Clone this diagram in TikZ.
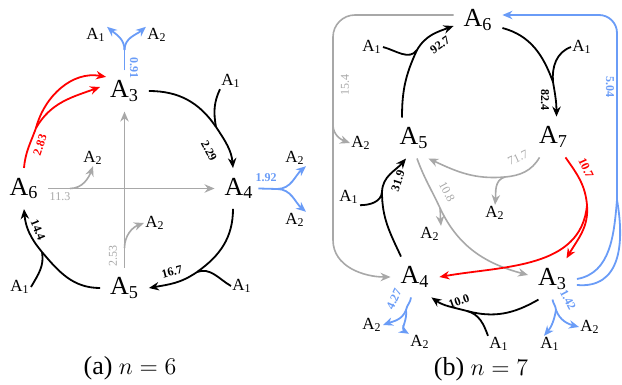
\documentclass[tikz,border=0pt]{standalone}
\usepackage{fontspec}
\setmainfont{Liberation Serif}
\usepackage{tikz}
\usetikzlibrary{arrows.meta}
\definecolor{figGray}{HTML}{A8A8A8}
\definecolor{figBlue}{HTML}{6A9CF7}
\definecolor{figRed}{HTML}{FF0000}
\newcommand{\Ai}[1]{A\textsubscript{#1}}

\begin{document}
\begin{tikzpicture}[x=0.5pt, y=0.5pt,
  big/.style={font=\fontsize{13}{15}\selectfont, inner sep=5pt, outer sep=0pt},
  small/.style={font=\fontsize{8.5}{10}\selectfont, inner sep=0.5pt},
  wt/.style={font=\fontsize{6}{7}\selectfont\bfseries, inner sep=0.5pt},
  gwt/.style={font=\fontsize{6}{7}\selectfont, text=figGray, inner sep=0.5pt},
  capt/.style={font=\fontsize{13}{15}\selectfont},
  arr/.style={-{Stealth[length=5pt,width=4.2pt]}},
  blk/.style={line width=0.9pt, black},
  rd/.style={line width=0.9pt, figRed},
  bl/.style={line width=0.9pt, figBlue},
  gr/.style={line width=0.8pt, figGray},
]
\useasboundingbox (0,0) rectangle (622,-385);

% === (a) n = 6 ===
\begin{scope}
  \node[big] (a3) at (124.5,-91) {\Ai3};
  \node[big] (a4) at (239,-188.5) {\Ai4};
  \node[big] (a5) at (124.5,-288) {\Ai5};
  \node[big] (a6) at (24,-188.5) {\Ai6};

  % A3 + A1 -> A4
  \node[small] (a34-in) at (231,-81) {\Ai1};
  \coordinate (a34-m) at (216,-127);
  \draw[blk] (a3.east) to[out=0,in=124] (a34-m);
  \draw[blk] (a34-in.south west) to[out=-115,in=100] (a34-m);
  \draw[blk,arr] (a34-m) to[out=-56,in=95] ([xshift=-3pt]a4.north);
  \node[wt, rotate=-62] (a34-w) at (209,-151) {2.29};

  % A4 + A1 -> A5
  \node[small] (a45-in) at (242,-286) {\Ai1};
  \coordinate (a45-m) at (197,-272);
  \draw[blk] ([xshift=-3pt]a4.south) to[out=-90,in=35] (a45-m);
  \draw[blk] (a45-in.west) to[out=150,in=20] (a45-m);
  \draw[blk,arr] (a45-m) to[out=-145,in=10] (a5.east);
  \node[wt, rotate=15] (a45-w) at (172,-272) {16.7};

  % A5 + A1 -> A6
  \node[small] (a56-in) at (20,-287) {\Ai1};
  \coordinate (a56-m) at (42,-252);
  \draw[blk] (a5.west) to[out=180,in=-50] (a56-m);
  \draw[blk] (a56-in.east) to[out=60,in=-80] (a56-m);
  \draw[blk,arr] (a56-m) to[out=130,in=-85] (a6.south);
  \node[wt, rotate=-68] (a56-w) at (38,-230) {14.4};

  % A6 -> 2 A3
  \coordinate (a63-s) at (36,-128);
  \draw[rd] (a6.north) to[out=85,in=-110] (a63-s);
  \draw[rd,arr] (a63-s) to[out=75,in=170] ([xshift=3pt]a3.150);
  \draw[rd,arr] (a63-s) to[out=60,in=200] ([yshift=2pt]a3.west);
  \node[wt, text=figRed, rotate=72] (a63-w) at (40,-145) {2.83};

  % A3 -> A1 + A2
  \node[small] (a3-o1) at (96,-35) {\Ai1};
  \node[small] (a3-o2) at (157,-35) {\Ai2};
  \coordinate (a3-s) at (124.5,-50);
  \draw[bl] (a3.north) -- (a3-s);
  \draw[bl,arr] (a3-s) to[out=90,in=-40] (a3-o1.north east);
  \draw[bl,arr] (a3-s) to[out=90,in=-140] (a3-o2.north west);
  \node[wt, text=figBlue, rotate=-90] (a3-w) at (134,-68) {0.91};

  % A4 -> A2 + A2
  \node[small] (a4-o1) at (295,-158) {\Ai2};
  \node[small] (a4-o2) at (295,-220) {\Ai2};
  \coordinate (a4-s) at (277,-189);
  \draw[bl] ([xshift=-2.5pt]a4.east) -- (a4-s);
  \draw[bl,arr] (a4-s) to[out=0,in=-140] (a4-o1.south east);
  \draw[bl,arr] (a4-s) to[out=0,in=140] (a4-o2.north east);
  \node[wt, text=figBlue] (a4-w) at (266,-178) {1.92};

  % A5 -> A3 + A2
  \node[small] (a53-o) at (155,-223) {\Ai2};
  \coordinate (a53-s) at (124.5,-248);
  \draw[gr,arr] (a5.north) -- (a3.south);
  \draw[gr,arr] (a53-s) to[out=90,in=200] (a53-o.west);
  \node[gwt, rotate=90] (a53-w) at (113,-256) {2.53};

  % A6 -> A4 + A2
  \node[small] (a64-o) at (93,-158) {\Ai2};
  \coordinate (a64-s) at (70,-188.5);
  \draw[gr,arr] (a6.east) -- (a4.west);
  \draw[gr,arr] (a64-s) to[out=0,in=-110] (a64-o.south);
  \node[gwt] (a64-w) at (60,-197) {11.3};

  \node[capt] (a-cap) at (130,-368) {(a) $n=6$};
\end{scope}

% === (b) n = 7 ===
\begin{scope}
  \node[big] (b6) at (478,-20) {\Ai6};
  \node[big] (b7) at (553.5,-137) {\Ai7};
  \node[big] (b5) at (414,-138) {\Ai5};
  \node[big] (b4) at (415,-277) {\Ai4};
  \node[big] (b3) at (552.5,-279) {\Ai3};

  % A6 -> A4 + A2
  \node[small] (b6-o) at (361,-143) {\Ai2};
  \coordinate (b6-s) at (333,-125);
  \coordinate (b6-c) at (333,-240);
  \draw[gr, rounded corners=11pt] ([yshift=2.5pt]b6.west) -| (b6-s);
  \draw[gr,arr] (b6-s) to[out=-90,in=160] (b6-o.west);
  \draw[gr,arr] (b6-s) -- (b6-c) to[out=-90,in=180] (b4.west);
  \node[gwt, rotate=90] (b6-w) at (345,-85) {15.4};

  % 2 A3 -> A6
  \coordinate (b3-m) at (617,-200);
  \draw[bl] (b3.east) to[out=10,in=-95] (b3-m);
  \draw[bl] ([yshift=-3pt]b3.east) to[out=-5,in=-80,looseness=1.2] (b3-m);
  \draw[bl,arr,rounded corners=9pt] (b3-m) |- ([yshift=2.5pt]b6.east);
  \node[wt, text=figBlue, rotate=-90] (b3-w) at (610,-87) {5.04};

  % A5 + A1 -> A6
  \node[small] (b56-in) at (372,-47) {\Ai1};
  \coordinate (b56-m) at (417,-50);
  \draw[blk] ([xshift=-6pt]b5.north) to[out=90,in=-115] (b56-m);
  \draw[blk] (b56-in.east) to[out=-15,in=-125] (b56-m);
  \draw[blk,arr] (b56-m) to[out=60,in=200] ([yshift=-3pt]b6.west);
  \node[wt, rotate=35] (b56-w) at (440,-45) {92.7};

  % A6 + A1 -> A7
  \node[small] (b67-in) at (582,-47) {\Ai1};
  \coordinate (b67-m) at (553,-82);
  \draw[blk] ([yshift=-4pt]b6.east) to[out=-15,in=110] (b67-m);
  \draw[blk] (b67-in.west) to[out=-160,in=95] (b67-m);
  \draw[blk,arr] (b67-m) to[out=-80,in=90] ([xshift=1.5pt]b7.north);
  \node[wt, rotate=-90] (b67-w) at (545,-100) {82.4};

  % A7 -> A5 + A2
  \node[small] (b75-o) at (495,-213) {\Ai2};
  \coordinate (b75-s) at (505,-177);
  \draw[gr] ([xshift=-7pt]b7.south) to[out=-120,in=5] (b75-s);
  \draw[gr,arr] (b75-s) to[out=185,in=-25] ([xshift=-5pt]b5.south east);
  \draw[gr,arr] (b75-s) to[out=-165,in=85] (b75-o.north);
  \node[gwt, rotate=25] (b75-w) at (518,-158) {71.7};

  % A5 -> A3 + A2
  \node[small] (b53-o) at (430,-234) {\Ai2};
  \coordinate (b53-s) at (440,-208);
  \draw[gr] ([xshift=1.5pt]b5.south) to[out=-70,in=115] (b53-s);
  \draw[gr,arr] (b53-s) to[out=-65,in=165] ([yshift=2pt]b3.west);
  \draw[gr,arr] (b53-s) to[out=-85,in=95] (b53-o.north east);
  \node[gwt, rotate=-62] (b53-w) at (447,-192) {10.8};

  % A7 -> A3 + A4
  \coordinate (b73-s) at (587,-205);
  \draw[rd] ([xshift=6pt]b7.south) to[out=-55,in=95] (b73-s);
  \draw[rd,arr] (b73-s) to[out=-85,in=60] ([xshift=7pt]b3.north);
  \draw[rd,arr] (b73-s) to[out=-95,in=10] (b4.east);
  \node[wt, text=figRed, rotate=-65] (b73-w) at (586,-168) {10.7};

  % A3 + A1 -> A4
  \node[small] (b34-in) at (499,-344) {\Ai1};
  \coordinate (b34-m) at (467,-311);
  \draw[blk] ([xshift=-7pt]b3.south) to[out=-150,in=-15] (b34-m);
  \draw[blk] (b34-in.north west) to[out=110,in=-15] (b34-m);
  \draw[blk,arr] (b34-m) to[out=165,in=-35] ([xshift=-4pt]b4.south east);
  \node[wt, rotate=20] (b34-w) at (459,-301) {10.0};

  % A4 + A1 -> A5
  \node[small] (b45-in) at (349,-197) {\Ai1};
  \coordinate (b45-m) at (382,-192);
  \draw[blk] ([xshift=-7pt]b4.north) to[out=115,in=-90] (b45-m);
  \draw[blk] (b45-in.south east) to[out=0,in=-95] (b45-m);
  \draw[blk,arr] (b45-m) to[out=88,in=-130] ([xshift=-4pt]b5.south);
  \node[wt, rotate=72] (b45-w) at (398,-181) {31.9};

  % A4 -> A2 + A2
  \node[small] (b4-o1) at (372,-325) {\Ai2};
  \node[small] (b4-o2) at (420,-342) {\Ai2};
  \coordinate (b4-s) at (406,-310);
  \draw[bl] ([xshift=-2pt]b4.south) to[out=-95,in=80] (b4-s);
  \draw[bl,arr] (b4-s) to[out=-110,in=20] (b4-o1.east);
  \draw[bl,arr] (b4-s) to[out=-80,in=150] (b4-o2.north west);
  \node[wt, text=figBlue, rotate=65] (b4-w) at (394,-299) {4.27};

  % A3 -> A1 + A2
  \node[small] (b3-o1) at (550,-344) {\Ai1};
  \node[small] (b3-o2) at (590,-327) {\Ai2};
  \coordinate (b3-s) at (556,-310);
  \draw[bl] (b3.south) to[out=-80,in=95] (b3-s);
  \draw[bl,arr] (b3-s) to[out=-100,in=50] ([xshift=-3pt]b3-o1.north);
  \draw[bl,arr] (b3-s) to[out=-70,in=165] (b3-o2.west);
  \node[wt, text=figBlue, rotate=-62] (b3-w) at (568,-300) {1.42};

  \node[capt] (b-cap) at (481,-369) {(b) $n=7$};
\end{scope}

\end{tikzpicture}
\end{document}
